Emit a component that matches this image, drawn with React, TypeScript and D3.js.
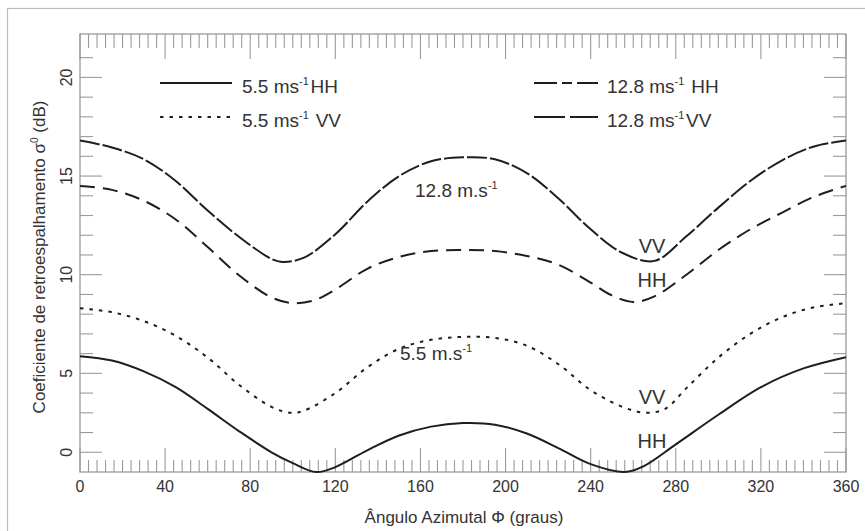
import React from "react";
import * as d3 from "d3";

// ---- data ----
const vv128Angles = [0, 15, 30, 45, 60, 75, 90, 95, 105, 120, 135, 150, 165, 180, 195, 210, 225, 240, 255, 270, 285, 300, 315, 330, 345, 360];
const vv128Values = [16.8, 16.45, 15.85, 14.75, 13.25, 11.9, 10.8, 10.65, 10.85, 12.05, 13.7, 15.0, 15.75, 15.95, 15.85, 15.15, 13.85, 12.3, 11.1, 10.7, 11.95, 13.4, 14.75, 15.8, 16.5, 16.8];

const hh128Angles = [0, 15, 30, 45, 60, 75, 90, 100, 110, 120, 135, 150, 165, 180, 195, 210, 225, 240, 250, 260, 270, 285, 300, 315, 330, 345, 360];
const hh128Values = [14.5, 14.3, 13.75, 12.8, 11.4, 9.95, 8.85, 8.56, 8.7, 9.25, 10.3, 10.9, 11.2, 11.25, 11.2, 10.95, 10.5, 9.6, 8.95, 8.62, 8.9, 10.0, 11.25, 12.3, 13.15, 13.95, 14.5];

const vv55Angles = [0, 15, 30, 45, 60, 75, 90, 99, 105, 120, 135, 150, 165, 180, 195, 210, 225, 240, 255, 266, 275, 285, 300, 315, 330, 345, 360];
const vv55Values = [8.3, 8.1, 7.65, 6.9, 5.8, 4.4, 3.3, 3.0, 3.1, 4.0, 5.3, 6.25, 6.7, 6.85, 6.8, 6.4, 5.45, 4.15, 3.3, 3.0, 3.2, 4.25, 5.8, 7.0, 7.85, 8.35, 8.55];

const hh55Angles = [0, 15, 30, 45, 60, 75, 90, 100, 111, 120, 135, 150, 165, 180, 195, 210, 225, 240, 256, 265, 280, 300, 320, 340, 360];
const hh55Values = [5.87, 5.65, 5.1, 4.3, 3.2, 2.05, 1.0, 0.45, 0.0, 0.25, 1.1, 1.85, 2.3, 2.48, 2.4, 1.95, 1.2, 0.4, 0.0, 0.3, 1.4, 2.9, 4.3, 5.25, 5.82];

const xMajorTicks = [0, 40, 80, 120, 160, 200, 240, 280, 320, 360];
const yMajorTickValues = [1, 5, 10, 15, 20];
const yTickLabels = ["0", "5", "10", "15", "20"];

const W = 865;
const H = 531;
const M = { left: 80, right: 846, top: 34, bottom: 472 };
const FONT = "'Liberation Sans', Arial, Helvetica, sans-serif";
const TEXT = "#333";
const AXIS = "#9a9a9a";
const LINE = "#1e1e1e";

export default function App() {
  const x = d3.scaleLinear().domain([0, 360]).range([M.left, M.right]);
  const y = d3.scaleLinear().domain([0, 22.2]).range([M.bottom, M.top]);
  const line = d3
    .line<[number, number]>()
    .x((d) => x(d[0]))
    .y((d) => y(d[1]))
    .curve(d3.curveCatmullRom.alpha(0.5));
  const pts = (a: number[], v: number[]) => a.map((d, i) => [d, v[i]] as [number, number]);

  const series = [
    { key: "vv128", d: line(pts(vv128Angles, vv128Values)), dash: "20 3" },
    { key: "hh128", d: line(pts(hh128Angles, hh128Values)), dash: "15 8" },
    { key: "vv55", d: line(pts(vv55Angles, vv55Values)), dash: "3.5 6" },
    { key: "hh55", d: line(pts(hh55Angles, hh55Values)), dash: undefined },
  ];

  const xMinor = d3.range(0, 361, 4).filter((v) => v % 40 !== 0);
  const yMinor = d3.range(1, 22, 1).filter((v) => !yMajorTickValues.includes(v));

  const sup = (s: string, fs = 11) => (
    <>
      <tspan dy={-8} fontSize={fs}>{s}</tspan>
      <tspan dy={8}>{"\u200A"}</tspan>
    </>
  );

  return (
    <svg width={W} height={H} style={{ position: "absolute", left: 0, top: 0, fontFamily: FONT }}>
      <rect x={0} y={0} width={W} height={H} fill="#fff" />
      <rect x={7.5} y={8.5} width={W + 20} height={H + 20} fill="none" stroke="#bdbdbd" strokeWidth={1.2} />

      {/* frame */}
      <rect x={M.left} y={M.top} width={M.right - M.left} height={M.bottom - M.top} fill="none" stroke={AXIS} strokeWidth={1.3} />

      {/* ticks */}
      <g stroke={AXIS} strokeWidth={1.1}>
        {xMinor.map((v) => (
          <g key={"xm" + v}>
            <line x1={x(v)} x2={x(v)} y1={M.bottom} y2={M.bottom - 12} />
            <line x1={x(v)} x2={x(v)} y1={M.top} y2={M.top + 14} />
          </g>
        ))}
        {xMajorTicks.map((v) => (
          <g key={"xM" + v}>
            <line x1={x(v)} x2={x(v)} y1={M.bottom} y2={M.bottom - 24} />
            <line x1={x(v)} x2={x(v)} y1={M.top} y2={M.top + 25} />
          </g>
        ))}
        {yMinor.map((v) => (
          <g key={"ym" + v}>
            <line x1={M.left} x2={M.left + 13} y1={y(v)} y2={y(v)} />
            <line x1={M.right} x2={M.right - 13} y1={y(v)} y2={y(v)} />
          </g>
        ))}
        {yMajorTickValues.map((v) => (
          <g key={"yM" + v}>
            <line x1={M.left} x2={M.left + 22} y1={y(v)} y2={y(v)} />
            <line x1={M.right} x2={M.right - 22} y1={y(v)} y2={y(v)} />
          </g>
        ))}
      </g>

      {/* tick labels */}
      {xMajorTicks.map((v) => (
        <text key={"xl" + v} x={x(v)} y={492} textAnchor="middle" fontSize={16} fill={TEXT}>
          {v}
        </text>
      ))}
      {yMajorTickValues.map((v, i) => (
        <text
          key={"yl" + v}
          transform={`translate(72,${y(v)}) rotate(-90)`}
          textAnchor="middle"
          fontSize={16}
          fill={TEXT}
        >
          {yTickLabels[i]}
        </text>
      ))}

      {/* axis titles */}
      <text x={464} y={523} textAnchor="middle" fontSize={17} fill={TEXT}>
        Ângulo Azimutal Φ (graus)
      </text>
      <text transform={`translate(45,257) rotate(-90)`} textAnchor="middle" fontSize={17} fill={TEXT}>
        Coeficiente de retroespalhamento σ
        <tspan dy={-7} fontSize={10}>0</tspan>
        <tspan dy={7}> (dB)</tspan>
      </text>

      {/* curves */}
      {series.map((s) => (
        <path key={s.key} d={s.d || ""} fill="none" stroke={LINE} strokeWidth={2} strokeDasharray={s.dash} />
      ))}

      {/* legend */}
      <g stroke={LINE} strokeWidth={2}>
        <line x1={160} x2={232} y1={83} y2={83} />
        <line x1={160} x2={232} y1={117} y2={117} strokeDasharray="3.5 6" />
        <line x1={534} x2={598} y1={83} y2={83} strokeDasharray="23 5 10 5 22" />
        <line x1={534} x2={598} y1={117} y2={117} strokeDasharray="31 5 30" />
      </g>
      <g fontSize={19} fill={TEXT}>
        <text x={242} y={93}>
          5.5 ms{sup("-1")}HH
        </text>
        <text x={242} y={127}>
          5.5 ms{sup("-1")} VV
        </text>
        <text x={607} y={93}>
          12.8 ms{sup("-1")} HH
        </text>
        <text x={607} y={127}>
          12.8 ms{sup("-1")}VV
        </text>
      </g>

      {/* annotations */}
      <g fontSize={19} fill={TEXT}>
        <text x={415} y={197}>
          12.8 m.s{sup("-1")}
        </text>
        <text x={400} y={360}>
          5.5 m.s{sup("-1")}
        </text>
      </g>
      <g fontSize={20} fill={TEXT}>
        <text x={652} y={253} textAnchor="middle">VV</text>
        <text x={652} y={287} textAnchor="middle">HH</text>
        <text x={652} y={404} textAnchor="middle">VV</text>
        <text x={652} y={448} textAnchor="middle">HH</text>
      </g>
    </svg>
  );
}
